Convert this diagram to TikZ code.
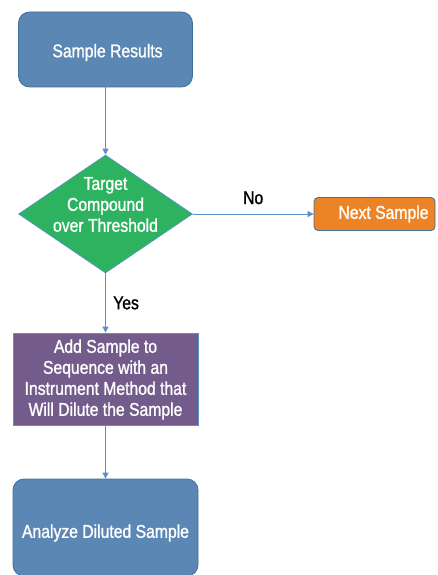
\documentclass[tikz,border=0pt]{standalone}
\usepackage{fontspec}
\setmainfont[FakeStretch=0.85,FakeBold=1.2]{Liberation Sans}
\usetikzlibrary{shapes.geometric,arrows.meta}
\definecolor{boxblue}{HTML}{5A87B4}
\definecolor{boxblueline}{HTML}{41709C}
\definecolor{dgreen}{HTML}{2DB360}
\definecolor{dgreenline}{HTML}{5B8FC8}
\definecolor{norange}{HTML}{EC8427}
\definecolor{purplebox}{HTML}{735B8C}
\definecolor{arrowblue}{HTML}{5B8FC8}
\tikzset{
  lbl/.style={font=\fontsize{18.5}{21}\selectfont, text=white, align=center},
  bluebox/.style={draw=boxblueline, line width=0.8pt, fill=boxblue, rounded corners=11pt, inner sep=0pt},
  decide/.style={diamond, draw=dgreenline, line width=0.6pt, fill=dgreen, inner sep=0pt, aspect=1.47},
  orangebox/.style={draw=boxblueline, line width=0.8pt, fill=norange, rounded corners=4pt, inner sep=0pt},
  purplestep/.style={draw=arrowblue, line width=0.8pt, fill=purplebox, inner sep=0pt},
  conn/.style={draw=arrowblue, line width=0.8pt, -{Triangle[length=6pt,width=6pt]}},
  edgetxt/.style={font=\fontsize{18.5}{21}\selectfont, text=black}
}
\begin{document}
\begin{tikzpicture}[x=1pt,y=-1pt]
\useasboundingbox (0,0) rectangle (438,575);
\node[bluebox, minimum width=174pt, minimum height=75pt] (sr) at (105.5,49.5) {};
\node[lbl] (srt) at (107.5,52.5) {Sample Results};
\node[decide, minimum width=174pt, minimum height=118pt] (dec) at (105.5,214) {};
\node[lbl] (dect) at (105.5,204.5) {Target\\Compound\\over Threshold};
\node[orangebox, minimum width=121pt, minimum height=33pt] (next) at (374.5,214) {};
\node[lbl] (nextt) at (383.5,214) {Next Sample};
\node[purplestep, minimum width=185pt, minimum height=92pt] (add) at (105.5,379) {};
\node[lbl] (addt) at (105.5,379.5) {Add Sample to\\Sequence with an\\Instrument Method that\\Will Dilute the Sample};
\node[bluebox, minimum width=185pt, minimum height=97pt] (ana) at (105.5,527.5) {};
\node[lbl] (anat) at (105.5,533) {Analyze Diluted Sample};
\draw[conn] (sr.south) -- (dec.north);
\draw[conn] (dec.east) -- node[edgetxt, above=6pt] (no) {No} (next.west);
\draw[conn] (dec.south) -- node[edgetxt, right=4pt, pos=0.5] (yes) {Yes} (add.north);
\draw[conn] (add.south) -- (ana.north);
\end{tikzpicture}
\end{document}
